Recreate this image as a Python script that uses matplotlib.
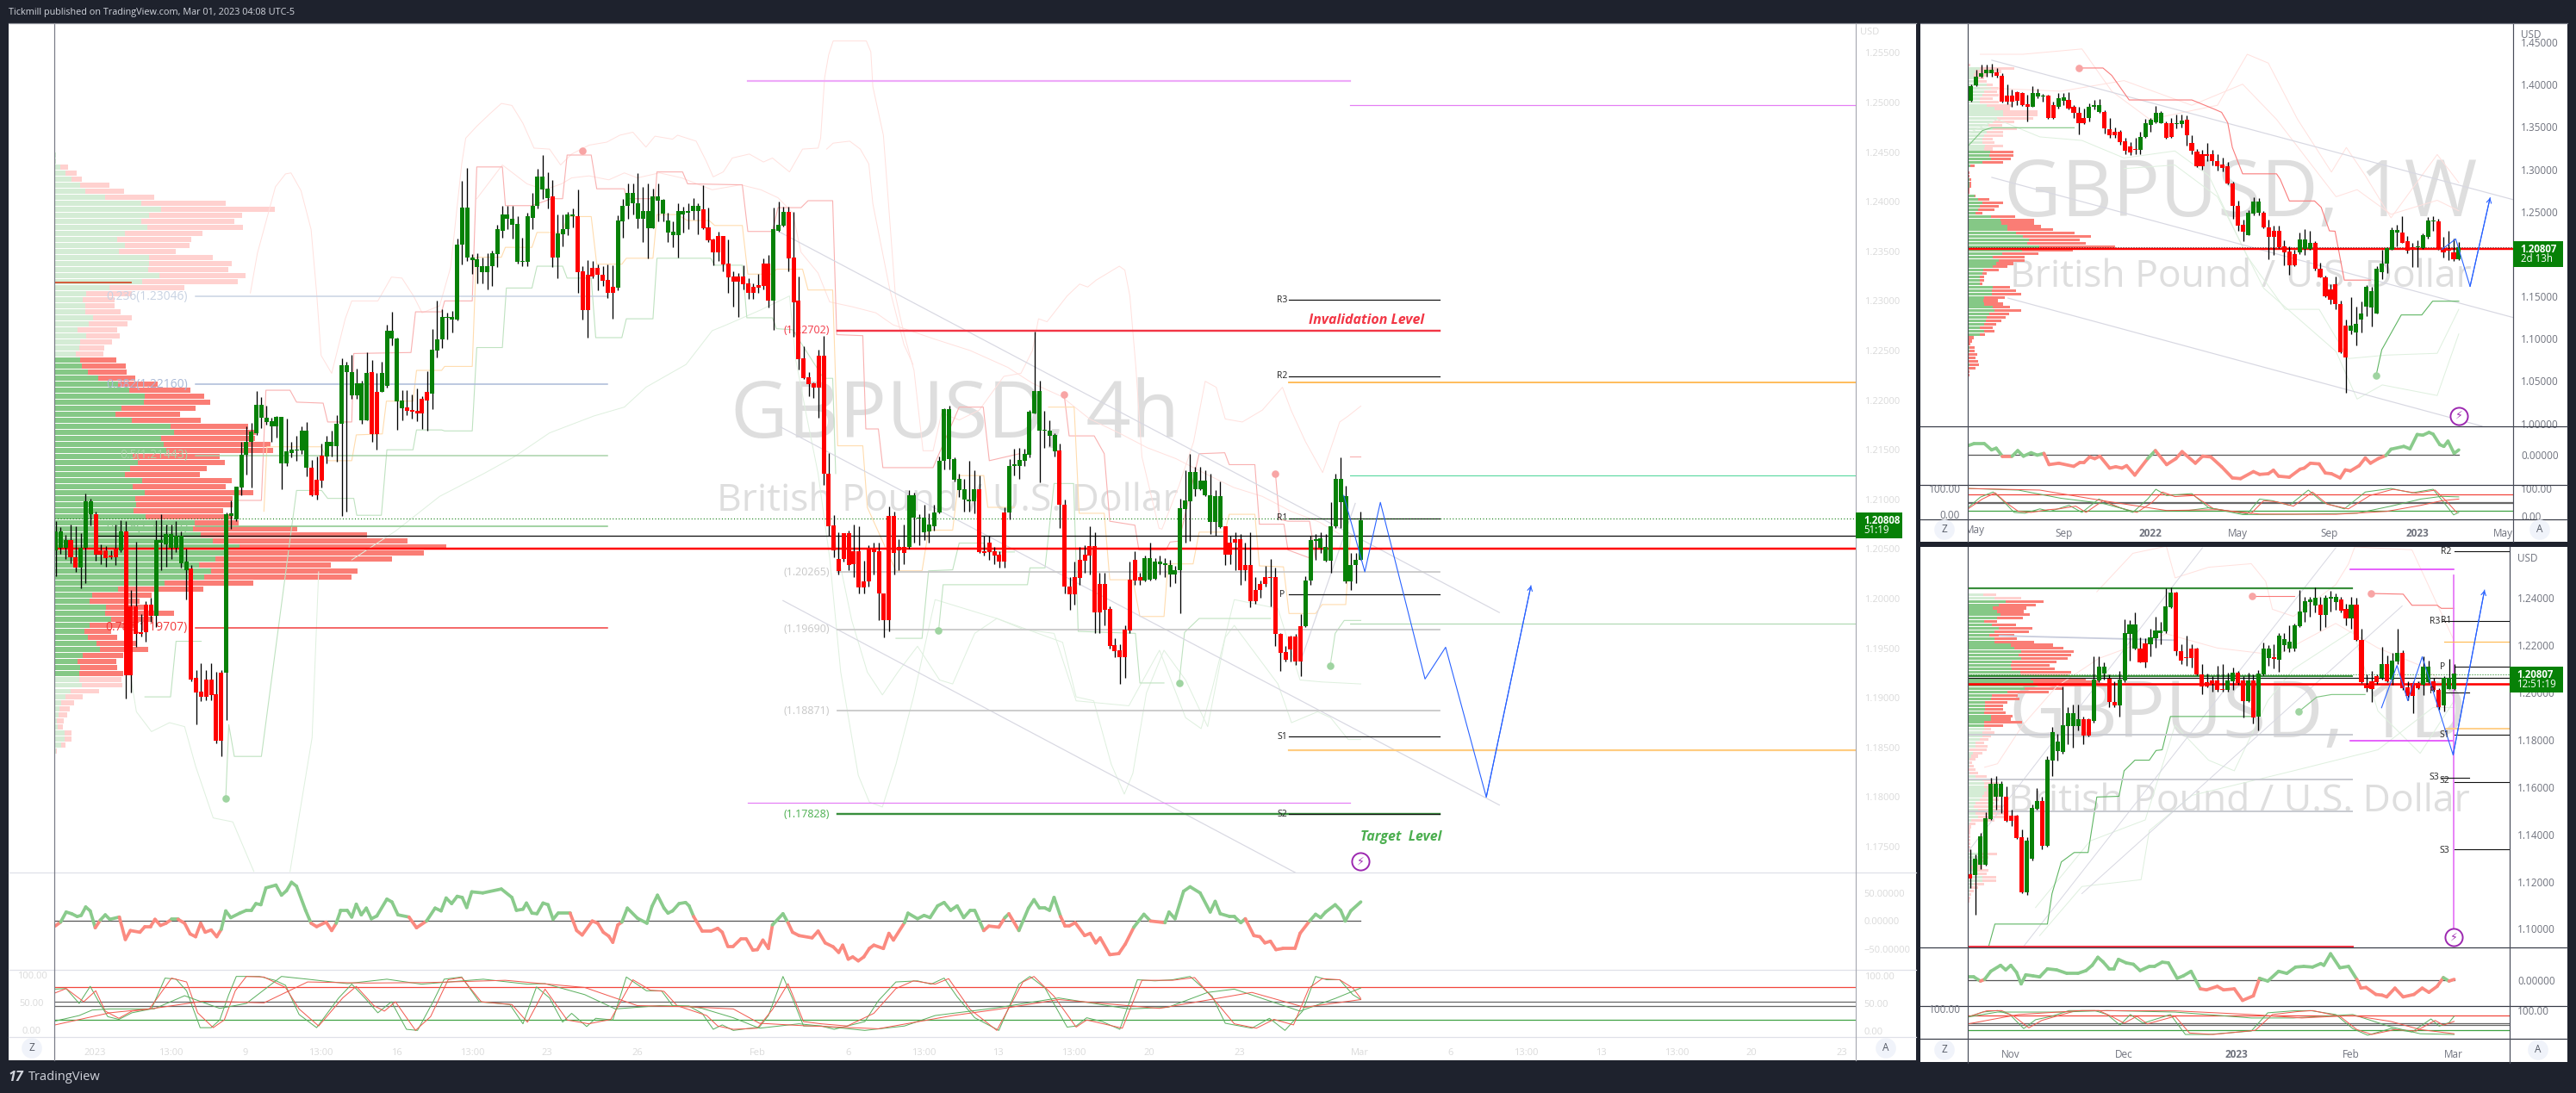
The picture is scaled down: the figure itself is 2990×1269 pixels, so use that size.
import numpy as np
import matplotlib
matplotlib.use("Agg")
import matplotlib.pyplot as plt
from matplotlib.collections import LineCollection
from matplotlib.lines import Line2D
from matplotlib.patches import Rectangle

plt.rcParams['font.family'] = ['Open Sans', 'DejaVu Sans']

# ---------- 4h candles (values in 1/10000 of a dollar) ----------
m_open = [12049,12051,12051,12059,12042,12031,12051,12085,12085,12049,
12049,12043,12050,12049,12068,11992,11992,11966,11994,11994,
11983,12056,12055,12051,12051,12036,12029,12030,11920,11906,
11918,11918,11904,11925,11925,12083,12080,12112,12145,12158,
12167,12182,12178,12174,12174,12136,12136,12147,12149,12149,
12132,12132,12120,12144,12143,12154,12154,12176,12228,12205,
12205,12180,12180,12228,12208,12208,12214,12262,12199,12192,
12193,12190,12189,12201,12208,12207,12250,12261,12283,12281,
12281,12357,12344,12341,12334,12329,12329,12335,12347,12371,
12383,12377,12339,12339,12339,12384,12396,12412,12404,12405,
12344,12367,12372,12385,12385,12330,12326,12333,12333,12326,
12321,12314,12313,12380,12396,12398,12383,12383,12373,12373,
12401,12388,12369,12366,12366,12387,12389,12391,12391,12392,
12374,12362,12365,12365,12338,12325,12325,12325,12318,12314,
12316,12338,12338,12300,12371,12376,12390,12344,12300,12242,
12223,12217,12245,12245,12126,12074,12040,12066,12066,12048,
12048,12017,12051,12051,12048,12005,12083,12083,12052,12052,
12052,12082,12081,12067,12068,12073,12087,12139,12141,12120,
12109,12100,12098,12098,12110,12048,12056,12048,12044,12087,
12087,12134,12134,12139,12145,12187,12169,12169,12164,12148,12149,12095,
12012,12022,12039,12044,12053,12053,12015,12015,11990,11953,
11948,11969,12019,12039,12022,12018,12019,12020,12035,12034,
12024,12024,12029,12090,12098,12110,12110,12104,12077,12077,
12072,12073,12056,12060,12060,12034,12034,12009,12015,12022,
12022,12022,11964,11946,11962,11962,11972,11972,12018,12058,
12051,12038,12038,12073,12097,12017,12017,12034,12039]
m_close = [12068,12068,12059,12042,12031,12051,12098,12098,12044,12044,
12041,12042,12042,12068,11923,11923,11964,11964,11966,11983,
12059,12059,12065,12065,12063,12063,12037,11918,11905,11901,
11901,11903,11857,11857,12085,12086,12113,12145,12158,12168,
12195,12195,12182,12179,12183,12183,12148,12150,12150,12169,
12169,12104,12104,12119,12158,12158,12176,12235,12235,12228,
12217,12217,12227,12166,12166,12227,12270,12270,12262,12200,
12189,12188,12187,12187,12200,12251,12261,12284,12284,12284,
12357,12394,12394,12344,12342,12335,12335,12348,12372,12387,
12387,12383,12378,12340,12385,12396,12425,12425,12413,12344,
12368,12372,12387,12387,12329,12291,12291,12325,12326,12320,
12308,12308,12381,12396,12409,12409,12398,12391,12391,12405,
12405,12402,12381,12370,12391,12391,12391,12396,12396,12373,
12361,12349,12349,12337,12324,12319,12319,12317,12308,12308,
12313,12315,12300,12372,12377,12390,12343,12299,12241,12222,
12216,12213,12213,12126,12073,12049,12028,12040,12034,12035,
12011,12011,12017,12047,12005,11978,11978,12046,12049,12046,
12104,12104,12082,12082,12075,12087,12139,12191,12191,12141,
12121,12110,12100,12110,12047,12046,12047,12043,12037,12037,
12134,12135,12140,12146,12188,12209,12209,12170,12169,12165,12095,12012,
12004,12004,12021,12038,12043,11986,11986,11989,11952,11947,
11941,11941,11968,12018,12018,12041,12041,12037,12037,12036,
12034,12029,12091,12099,12128,12128,12119,12119,12104,12103,
12103,12044,12044,12056,12029,12029,11997,11997,12009,12015,
12021,11964,11945,11938,11949,11937,11937,12018,12059,12060,
12061,12052,12073,12121,12121,12103,12034,12039,12079]
m_high = [12078,12072,12064,12075,12073,12066,12106,12101,12088,12055,
12053,12049,12075,12079,12078,12009,12057,11984,11997,12001,
12079,12085,12075,12075,12078,12068,12050,12034,11928,11935,
11928,11935,11926,11928,12087,12099,12113,12158,12174,12177,
12209,12203,12194,12182,12184,12183,12181,12158,12164,12174,
12178,12140,12143,12156,12164,12169,12185,12242,12239,12246,
12232,12220,12248,12240,12227,12239,12276,12289,12263,12210,
12210,12206,12212,12204,12229,12272,12300,12292,12288,12290,
12363,12421,12434,12347,12348,12344,12348,12351,12377,12396,
12396,12396,12385,12364,12389,12409,12433,12447,12430,12422,
12387,12387,12390,12393,12412,12335,12341,12340,12337,12335,
12337,12336,12386,12403,12418,12418,12429,12415,12418,12413,
12418,12403,12389,12380,12398,12395,12398,12404,12398,12417,
12394,12363,12370,12365,12362,12330,12328,12336,12323,12318,
12327,12343,12346,12394,12400,12395,12395,12390,12325,12254,
12228,12218,12251,12265,12147,12084,12067,12066,12069,12075,
12073,12038,12054,12056,12056,12005,12093,12088,12060,12075,
12109,12107,12085,12095,12086,12095,12143,12192,12194,12142,
12126,12121,12139,12129,12124,12063,12063,12052,12048,12092,
12141,12151,12152,12151,12190,12269,12220,12189,12180,12167,12156,12100,
12022,12037,12052,12054,12073,12067,12026,12026,11992,11960,
11954,11973,12037,12048,12026,12043,12056,12041,12043,12041,
12039,12033,12101,12129,12146,12133,12133,12129,12126,12109,
12118,12073,12063,12067,12065,12056,12067,12022,12018,12033,
12040,12031,11965,11952,11963,11964,11984,12023,12063,12065,
12067,12065,12097,12126,12142,12114,12046,12046,12088]
m_low = [12023,12045,12040,12036,12027,12010,12016,12074,12038,12035,
12032,12040,12034,12047,11899,11905,11951,11962,11957,11977,
11971,12029,12032,12040,12047,12031,11999,11917,11873,11897,
11898,11898,11854,11841,11878,12070,12078,12104,12125,12112,
12165,12172,12175,12158,12162,12110,12134,12142,12139,12146,
12123,12103,12100,12112,12136,12143,12138,12083,12088,12201,
12201,12176,12180,12158,12150,12208,12213,12255,12170,12180,
12185,12181,12179,12171,12169,12191,12243,12253,12261,12268,
12280,12337,12340,12327,12318,12318,12312,12315,12334,12364,
12372,12363,12338,12335,12335,12372,12393,12403,12393,12334,
12323,12355,12366,12374,12308,12281,12263,12323,12311,12315,
12303,12282,12311,12364,12383,12387,12373,12359,12343,12373,
12380,12380,12359,12354,12344,12369,12372,12382,12367,12372,
12359,12336,12340,12330,12308,12294,12284,12312,12302,12302,
12308,12312,12293,12271,12370,12375,12330,12264,12231,12221,
12204,12202,12182,12115,12063,12042,12024,12037,12029,12022,
12005,12005,12012,12024,11978,11961,11967,12024,12029,12035,
12050,12056,12054,12059,12056,12069,12086,12130,12130,12118,
12102,12088,12088,12086,12046,12043,12039,12035,12031,12031,
12080,12124,12121,12134,12142,12187,12117,12152,12154,12143,12071,12005,
11989,11994,12014,12026,12024,11965,11965,11973,11950,11941,
11914,11920,11965,12014,12014,12017,12018,12019,12024,12022,
12012,12016,11985,12056,12058,12103,12109,12103,12065,12063,
12071,12034,12035,12029,12014,12018,11991,11995,12001,12012,
11992,11952,11927,11937,11937,11933,11922,11971,12014,12039,
12046,12037,12026,12071,12071,12016,12009,12016,12039]

# ---------- weekly candles ----------
w_open = [13805,13992,14088,14137,14137,14146,14108,13872,13872,13905,13901,13772,13739,13859,13855,13868,13755,13739,13809,13818,
13735,13664,13606,13606,13739,13672,13681,13473,13444,13444,13328,13274,13241,13224,13382,13519,13556,13548,13548,13539,
13535,13535,13581,13311,13207,13174,13174,13174,13099,13058,13033,12834,12572,12344,12227,12477,12485,12485,12310,12269,
12269,12095,12032,11999,12020,12061,12061,12128,11825,11721,11580,11646,11405,11156,11090,11077,11231,11380,11364,11297,
11783,11887,12053,12257,12257,12153,12082,12078,12074,12198,12381,12385,12061,12061,12024,11937]
w_close = [13984,14088,14137,14179,14179,14108,13797,13797,13797,13805,13755,13735,13901,13901,13872,13606,13606,13838,13847,13718,
13664,13539,13544,13735,13755,13755,13486,13402,13402,13319,13216,13195,13224,13382,13539,13585,13664,13664,13373,13382,
13548,13577,13402,13216,13033,13033,13162,13099,13033,13016,12829,12564,12331,12261,12485,12618,12618,12310,12203,12203,
12082,12024,11862,11862,12169,12169,12128,11825,11729,11501,11463,11414,10841,10783,11152,11173,11297,11613,11563,11825,
11887,12074,12281,12281,12136,12041,12053,12095,12219,12394,12398,12053,12024,12036,11937,12078]
w_high = [14004,14171,14237,14233,14245,14191,14137,14004,13942,13921,13913,13880,13984,13955,13888,13880,13797,13897,13901,13913,
13755,13735,13714,13776,13818,13830,13697,13610,13498,13465,13373,13319,13373,13444,13598,13610,13747,13689,13569,13610,
13643,13643,13639,13402,13236,13224,13307,13224,13174,13141,13083,12850,12634,12406,12522,12668,12663,12510,12406,12335,
12335,12157,12095,12045,12252,12294,12269,12153,11895,11742,11646,11733,11451,11231,11493,11380,11438,11638,11617,11854,
12053,12082,12310,12344,12447,12211,12128,12157,12240,12435,12443,12418,12198,12273,12178,12144]
w_low = [13797,13984,14079,14096,14088,14079,13789,13764,13735,13755,13747,13569,13735,13838,13797,13598,13598,13714,13755,13706,
13610,13415,13535,13569,13706,13664,13423,13373,13373,13290,13182,13166,13174,13174,13373,13444,13539,13539,13357,13373,
13486,13498,13278,13182,13025,13000,13099,13050,12983,12975,12821,12418,12269,12153,12219,12460,12460,12302,11937,11991,
12070,11866,11754,11858,12003,11991,12045,11804,11721,11493,11410,11347,10828,10359,11057,10924,11077,11264,11148,11293,
11700,11771,12045,12095,12128,12012,11845,11845,12061,12178,12269,12045,11962,11929,11920,11929]

# ---------- daily candles ----------
d_open = [11231,11228,11271,11271,11464,11558,11558,11558,11479,11479,11387,11153,11295,11509,11541,11351,11714,11751,11748,11859,
11859,11859,11889,11889,11880,12052,12082,12058,11959,11947,12052,12249,12185,12186,12207,12204,12231,12252,12260,12362,
12424,12177,12151,12185,12185,12078,12043,12052,12052,12014,12011,12048,12085,12052,11963,12052,11899,12079,12148,12151,
12140,12201,12186,12186,12281,12339,12384,12370,12373,12330,12397,12385,12393,12353,12315,12372,12222,12032,12048,12070,
12063,12121,12055,12133,12168,12023,12041,12041,12033,12044,12047,12011,11947,12017,12017]
d_close = [11213,11295,11390,11468,11614,11614,11614,11457,11457,11384,11153,11375,11512,11541,11351,11717,11832,11792,11862,11913,
11913,11889,11818,11818,12055,12110,12110,11959,11947,12055,12252,12287,12289,12130,12130,12234,12263,12263,12365,12424,
12177,12137,12145,12145,12078,12027,12027,12036,12011,12011,12052,12085,12041,11963,12052,11896,12082,12185,12185,12142,
12241,12225,12216,12284,12344,12387,12396,12400,12330,12400,12406,12406,12347,12315,12372,12222,12045,12018,12017,12045,
12121,12047,12136,12168,12020,11986,11986,12018,12110,12110,12011,11937,12061,12061,12081]
d_high = [11335,11315,11405,11494,11639,11647,11624,11602,11506,11483,11419,11387,11528,11595,11558,11729,11855,11825,12026,11937,
11951,11951,11899,11892,12152,12152,12130,12078,12048,12093,12311,12308,12341,12234,12231,12271,12320,12301,12442,12445,
12427,12204,12241,12204,12189,12122,12082,12070,12115,12122,12085,12107,12093,12070,12085,12078,12097,12211,12201,12204,
12252,12252,12286,12293,12434,12405,12405,12445,12405,12412,12430,12420,12405,12375,12405,12400,12271,12078,12093,12078,
12194,12159,12167,12271,12180,12048,12048,12048,12152,12137,12063,12018,12070,12142,12122]
d_low = [11171,11060,11253,11268,11461,11506,11491,11454,11434,11379,11149,11142,11290,11506,11335,11348,11647,11711,11743,11780,
11766,11840,11780,11813,11874,12045,12055,11937,11940,11899,12046,12137,12182,12127,12107,12152,12189,12204,12252,12359,
12159,12122,12115,12107,12073,11993,12023,12003,12003,12003,12003,12011,12033,11896,11959,11870,11840,12073,12115,12104,
12088,12174,12171,12174,12278,12301,12323,12338,12263,12278,12345,12350,12338,12286,12271,12219,12041,12003,11959,12038,
12055,12044,12033,12122,12011,11966,11914,12014,11989,12041,12003,11929,11922,12014,12011]

# ---------- volume profiles (up / down volume per price row) ----------
vp_m_up = [4,4,13,26,39,59,71,116,198,243,215,198,211,161,143,161,147,215,215,214,240,199,125,
73,64,71,71,88,79,53,73,59,57,49,
58,63,77,99,146,170,205,203,153,139,177,265,273,243,249,255,179,191,173,160,199,179,205,185,187,181,207,319,316,333,361,421,386,366,
329,356,341,251,146,87,81,118,116,130,81,69,77,97,103,65,53,59,57,
57,63,37,25,15,11,9,6,7,24,24,16,3]
vp_m_dn = [0,0,18,24,23,66,87,111,193,258,212,211,218,176,168,146,129,145,188,181,195,218,170,
103,73,66,79,88,87,90,75,72,56,62,
83,99,87,85,90,139,137,151,168,147,156,176,185,213,242,242,197,197,173,171,204,212,247,221,219,203,199,100,236,378,442,470,454,402,
300,333,335,201,193,134,113,88,156,96,105,60,66,89,110,91,88,84,99,
95,91,64,39,30,24,20,15,12,15,15,9,2]
vp_w_up = [3,29,19,14,19,19,44,54,39,34,29,29,44,64,84,84,69,59,49,59,44,39,34,34,41,39,
53,51,54,34,7,2,2,3,5,4,4,2,3,
17,24,34,29,24,19,54,77,79,94,94,114,131,144,141,169,129,82,59,74,67,59,37,34,29,29,29,59,57,57,39,37,39,59,64,51,44,42,39,29,39,29,2,2,1,4,4,2,2,2,4,2,1,1]
vp_w_dn = [4,80,60,30,20,25,15,20,30,40,30,45,60,35,80,80,85,50,32,58,40,45,25,30,43,20,
54,56,47,49,10,1,2,1,4,5,4,3,2,
2,27,50,45,40,15,58,80,77,80,107,138,161,120,138,180,120,85,75,60,40,35,37,10,10,10,5,40,57,69,48,34,45,40,62,46,45,37,28,30,25,12,12,8,6,12,12,20,17,22,22,16,4,4]
vp_d_up = [37,64,89,74,59,69,77,69,39,56,74,64,51,64,64,101,109,127,121,127,104,101,104,124,127,149,154,164,134,94,57,54,41,41,41,39,54,54,39,39,
39,34,34,29,19,19,4,12,9,4,4,4,2,4,19,34,39,39,44,39,34,29,19,14,24,19,24,9,4,2,2,2,2,2,2,2,2,34,29,19,14,9,19,24,34,34,14,9,4,4,2,2,1,1,1]
vp_d_dn = [30,63,90,87,80,63,70,62,30,58,78,80,58,53,93,101,117,124,123,109,105,93,102,120,112,130,155,165,90,97,62,68,53,43,43,50,52,47,90,45,
15,30,20,20,20,28,40,22,15,15,7,10,17,20,25,25,35,30,35,45,40,45,45,65,60,70,70,55,15,7,5,4,4,4,4,5,5,35,20,25,20,25,30,20,33,33,25,15,10,5,4,2,2,2,1]

# ---------- momentum pane series: bar position and value ----------
rsi_m_x = [-0.1,1,2.1,3.2,4.3,5.1,6,6.9,7.9,8.9,9.9,10.8,12.7,13.9,14.9,16.8,17.8,18.9,19.8,20.9,22,23.1,24.4,25.7,26.8,27.9,28.9,29.8,31,32.1,33,33.9,34.9,36.7,38,39,39.9,40.9,41.9,43.9,45,46,47,48,49.8,50.9,52,53.9,55,55.9,56.8,58.1,59,59.9,60.9,61.9,62.9,64,66,67,68.2,70.4,71.9,73.9,75.6,76.8,77.8,78.9,80,81,81.9,82.9,85.1,88.8,90.9,91.8,93.1,93.8,94.9,95.9,97.1,98.1,99.1,100.1,102.5,103.8,104.9,106.9,108,109.1,110.2,111,112,112.8,113.9,115.9,117.8,118.8,119.9,121.2,122,122.9,124.2,125.5,
126.2,127.1,128.8,130.6,131.9,132.8,133.9,135,136.5,137.6,138.9,139.8,140.9,142,142.8,144.9,145.9,146.8,148.1,150.7,151.9,153.3,154.9,156,156.8,157.9,158.8,159.9,161,162.1,163,164.9,166,166.9,169.1,169.8,171.7,173,174.2,175.7,177,178.3,179.6,180.9,182.2,183.1,184.9,185.9,187.9,189.1,189.9,191.9,193.8,194.9,196,197.1,198,198.9,200.2,201.1,201.9,203.1,205,206.1,207.2,208.1,210,211.8,213.1,214.8,216.8,218.1,221,221.8,223,224.7,226,228,230,231,232,233.9,234.8,236.1,237,238.7,239.9,240.9,242,243.1,244.4,246.9,247.9,249.8,251,252,253,254.9,256,256.9,258,260]
rsi_m_v = [-9,-2,16,13,8,10,25,18,-12,1.5,11,3,7,-33,-17,-20,-10,-10,3,-8,-4,3,3,-4,-23,-28,-4,-20,-16,-28,-15,18,6,14,19,19,31,29,59,64,46,54,69,62,19,-4,-10,-2,-17,-4,19,19,7,30,11,23,4,9,39,34,11,7,-12,0,23,18,41,31,44,42,24,52,50,57,42,19,21,32,14,13,32,29,3,14,14,-17,-25,0,-4,-20,-27,-38,-7,-2,23,5,-4,26,46,23,14,18,31,33,
27,8,-18,-18,-13,-20,-45,-45,-32,-32,-52,-51,-34,-49,-7,13,-3,-20,-26,-30,-18,-39,-46,-56,-43,-68,-64,-71,-64,-49,-43,-49,-22,-34,-3,14,4,10,6,27,33,19,27,6,19,19,-17,-9,-11,6,13,-17,23,38,23,23,19,42,8,-9,-9,-3,-26,-22,-39,-30,-60,-58,-41,-11,12,0,-3,16,4,53,61,50,16,35,13,8,8,-3,4,-26,-28,-39,-36,-51,-49,-49,-22,0,12,6,16,29,19,0,18,34]
rsi_w_x = [-0.6,0.6,2.6,4,4.9,6.1,8,9.1,10.2,11.7,12.9,14.2,15.2,17.1,20,21.2,22,23.1,24.1,25.1,27,28.2,29.4,30.3,31.9,34.4,35.9,38.1,39.9,41.1,43.7,45.1,46.7,48.8,50.9,52.5,55,56.2,57.9,58.9,59.9,62,64.1,64.9,66.1,67.8,69,70.2,71.9,72.9,73.9,75.6,76.8,77.8,79.3,80.8,81.8,84.3,85.5,86.9,88,89.2,90,91.3,92.1,92.9,94.1,95]
rsi_w_v = [13,16,16,7,9.5,-2,-2,6,-2,3,-0.5,2,-14,-12,-16.5,-11,-11,-3,-5.5,-2,-19,-17,-19,-15.5,-29,-5.5,6,-14,-5.5,4.5,-12,-2,-3,-17,-33,-34,-24,-28,-27,-22,-30.5,-32,-20.5,-19,-12,-13,-26,-27,-33,-21.5,-23,-15.5,-4.5,-12,-5.5,-1,8,12,8.5,29,28,32,29.5,14.5,12,19.5,2,7]
rsi_d_x = [-0.4,0.7,2,2.8,4,5.9,6.9,7.9,9,9.9,10.8,12.2,13.5,15,16.8,18.8,20.9,22.5,23.7,24.8,25.8,27,27.9,28.8,30.3,31.7,33,34.8,35.8,37.3,38.5,40.2,41.4,42.9,44.7,45.9,48,49.2,51.3,52.9,55,56.2,57.8,59.9,61.5,63.2,64.8,66.5,68.1,68.7,70,71.8,73.5,75.1,75.9,76.9,78.8,80,80.9,82.5,84.1,86.2,87.8,89.1,90.7,91.9,93,94]
rsi_d_v = [4.5,4.5,-1.5,1,12.5,21,14.5,21,11,-5.5,7.5,6,4.5,16,14.5,9.5,9.5,13.5,21,32.5,26,16,16,29.5,24.5,22.5,13.5,19.5,19.5,25.5,24.5,2.5,6,12.5,-12.5,-14,-9,-14,-12.5,-29,-22.5,2.5,-1.5,12.5,9.5,18.5,19.5,18.5,23.5,21,37.5,17.5,19.5,1,-11.5,-10.5,-20.5,-21.5,-24,-11.5,-24,-20.5,-11.5,-17.5,-9,3.5,-1.5,1]

# stochastic series: bar position and value
sk_m_x = [-0.1,2.1,4.7,6.9,8.6,10.4,12.6,15.2,19.1,21.8,24,26.1,28.8,31,32.7,34.5,36,40.6,43.7,45.8,48.5,52,56.4,59,61.6,64.2,66.9,69.9,72.1,75.2,77.4,80.9,84.4,90.5,93.1,95.8,98.4,101,102.8,105.8,107.6,111,113.7,117.7,120.7,122.9,126.2,128.8,131,132.8,135,140.2,142,144.9,146.8,149,152.5,155.1,161.2,163.9,167.4,171.7,174.4,177,179.6,183.1,187.9,191.9,194.1,197.1,201.5,203.3,205.4,208.5,212,215.5,219,222.5,226,230.4,233,238.3,241.8,244.9,248.4,251,253.2,255.8,258.4,260]
sk_m_v = [76,77,50,81,53,26,21,33,40,96,94,73,6,6,20,66,99,99,92,83,30,6,60,85,60,33,53,3,1,53,94,98,53,48,13,80,60,16,32,8,23,20,98,73,73,46,45,32,3,11,1,7,28,99,59,9,9,3,17,55,89,91,85,96,62,24,1,85,99,78,7,9,24,17,3,93,91,93,99,63,14,5,23,1,36,99,93,93,66,57]
sd_m_x = [-0.1,2.1,5.6,8,9.9,12.6,15.2,18.7,23.1,26.1,28.3,31.4,33.6,35.8,38,41.5,45.8,48.5,52.4,57.2,59.9,63.4,65.5,67.7,71.7,74.7,78.2,80.9,84.8,90.9,94,97.5,101.9,106.2,110.6,115,118.5,121.2,123.8,129.7,131.9,135,139.8,142.8,145.9,149,152.5,157.7,163,167.4,170.9,175.2,177.9,182.2,187.5,192.7,194.9,198.9,203.3,205.4,212.5,216.4,222.5,226.9,231.7,234.8,239.2,242.7,246.6,249.7,252.3,255.8,258.4,260]
sd_m_v = [69,77,53,73,36,23,36,40,96,89,33,6,20,73,99,98,79,40,9,60,81,46,36,53,1,26,93,97,53,48,16,76,20,13,21,93,74,72,46,28,9,3,5,39,86,17,13,9,32,77,91,85,95,39,1,89,99,63,7,20,5,92,92,97,47,13,5,21,11,78,95,93,78,59]
lg_m_x = [-0.1,4.7,7.3,10.8,19.6,25.7,32.7,38,45,50.2,58.1,66,72.9,85.2,94,97.5,105.4,111.5,120.3,126.2,128.8,135,140.2,148.1,161.2,169.1,175.2,187.5,199.8,213.8,221.6,229.5,234.8,247.9,254.9,260]
lg_m_v = [18,28,38,40,40,64,41,50,99,94,86,94,85,94,85,86,66,40,46,45,41,24,5,13,1,9,28,42,60,40,43,70,76,36,59,78]
lr_m_x = [-0.1,10.8,19.6,29.3,34.5,41.5,50.2,61.6,74.7,89.6,105.4,115.9,126.2,135,140.2,148.1,163.9,178.7,187.5,199.8,219.9,238.3,248.8,260]
lr_m_v = [11,33,41,54,53,51,89,87,88,92,79,46,44,40,14,10,4,28,39,57,41,70,43,57]

sk_w_x = [-0.6,1.8,4.3,5.9,8.4,10.5,13.4,15.4,19.1,21.6,24.9,28.2,31.5,34.4,36,38.1,43,46.3,49.6,53.8,56.2,58.7,62,65.7,68.6,72.7,76.8,81.8,85.9,90,92.1,94,95]
sk_w_v = [29,68,87,61,12,9,25,16,38,12,61,35,12,61,97,74,81,29,19,6,61,55,38,94,48,25,87,100,84,97,48,3,12]
sd_w_x = [-0.6,2.2,4.7,6.8,9.2,11.7,15,17.1,20.4,22.4,25.7,29,32.3,35.2,37.3,39.7,43.4,47.2,50.5,54.6,57,59.5,62.8,66.5,69.4,73.5,77.7,82.2,86.7,90.4,92.5,94.6]
sd_w_v = [25,61,84,48,16,12,22,25,35,12,55,29,12,48,87,70,74,26,16,9,55,51,35,87,42,25,74,97,83,94,55,12]
lg_w_x = [-0.6,9.2,17.5,25.7,31.5,42.2,46.3,52.9,62.8,75.2,81.8,87.6,91.7,95]
lg_w_v = [100,94,64,45,16,19,29,4,5,9,35,61,71,69]
lr_w_x = [-0.6,13.4,25.7,38.1,48,56.2,71.1,81,87.6,91.7,95]
lr_w_v = [100,94,55,19,22,6,5,16,38,55,61]

sk_d_x = [-0.4,2.4,5.3,7.7,10.4,12.7,15.9,19.2,24.2,26.6,29.1,31.1,33.6,38.9,41.8,46.3,54.6,57.8,62.8,66.1,71,74.3,77.2,81.7,85.8,89.5,91.1,93,94]
sk_d_v = [74,94,100,84,27,63,77,100,100,84,41,84,49,84,3,3,17,91,99,100,84,27,0,27,13,66,37,51,77]
sd_d_x = [-0.4,3.2,6.1,8.5,11.4,13.9,17.2,20.5,25,27.4,29.9,32.4,34.4,39.8,42.6,47.2,55.4,58.7,63.6,66.5,71.8,75.1,78,82.5,86.6,90.3,91.9,94]
sd_d_v = [74,99,100,77,30,60,80,99,100,77,49,77,46,77,9,3,20,84,96,100,77,23,3,23,17,60,41,56]
lg_d_x = [-0.4,5.3,17.6,26.6,39.8,54.6,62.8,74.3,81.7,87.4,94]
lg_d_v = [74,94,94,100,94,70,70,84,34,6,3]
lr_d_x = [-0.4,9.4,21.7,39.8,54.6,64.4,74.3,81.7,87.4,94]
lr_d_v = [46,84,100,99,84,70,80,56,23,6]

# ---------- 4h overlay lines: bar position and price (1/10000 $) ----------
m_red_x = [36.2,41,41.9,46.7,48,53.3,54.2,59,59.4,70.8,71.7,76.9,77.5,83,83.9,89,89.6,94.9,98.8,101,101.9,106.7,107.8,113.3,113.7,119.4,119.8,124.9,125.9,136.8,137.9,142.8,143.9,148.5,149.9,154.8,155.6,160.8,161.4,163.9,164.8,174.8,180,184.8,186,192]
m_red_y = [12099,12099,12210,12210,12198,12197,12178,12178,12247,12248,12289,12289,12300,12300,12435,12435,12396,12396,12403,12403,12447,12447,12413,12413,12403,12403,12430,12430,12418,12417,12370,12370,12394,12394,12401,12401,12266,12265,12171,12171,12132,12132,12193,12193,12139,12146]
m_red2_x = [200.9,201.9,206.9,208.9,210,215,215.8,221.2,222,223.8,227.8,232.9,233.8,238.9,239.8,244.7,245.5,249.8]
m_red2_y = [12206,12164,12164,12146,12078,12074,12049,12049,12057,12058,12146,12147,12135,12135,12075,12075,12049,12041]
m_red3_x = [243,243.8,245.5,249.8,251]
m_red3_y = [12126,12080,12078,12078,12041]
m_red4_x = [257.9,260]
m_red4_y = [12143,12143]
m_or_x = [41.5,42.1,52.9,54.2,59,59.9,65.1,65.9,71.2,71.9,76.9,77.5,83,83.8,88.8,89.6,94.9,95.9,101,101.9,106.7,107.8,112.8,113.7,119,119.8,123.8,125.9,130.2,131.3,136.8,137.9,142.8,143.6,148.8,149.9,154.8,155.8,160.8,161.7,167.4,172.6,173.9,178.7,180,184.9,185.7,191]
m_or_y = [12088,12153,12153,12139,12139,12165,12166,12199,12199,12230,12230,12234,12234,12344,12344,12354,12354,12369,12369,12385,12385,12337,12337,12343,12343,12387,12387,12381,12381,12376,12376,12327,12327,12332,12332,12311,12311,12154,12154,12092,12028,12028,12069,12069,12124,12124,12092,12092]
m_or2_x = [197.8,202.9,203.9,208.9,210,214.6,216,220.8,221.6,226.6,227.8,232.9,233.8,238.9,239.8,244.6,245.7,251,252.3,257,257.9,259.8]
m_or2_y = [12193,12193,12086,12086,12019,12019,11982,11982,12035,12035,12067,12067,12085,12085,12033,12032,11985,11985,11994,11994,12063,12063]
m_gr_x = [33.9,34.5,35.6,41,48,53,54.2,59.4,60,64.9,66,71.2,71.9,76.9,77.5,83,83.9,89,89.8,94.9,95.9,101,101.9,106.7,107.6,112.8,113.7,119,119.8,130.5,131.3,136.8,137.7,142.8,143.6,146.8,153,154.8,155.4]
m_gr_y = [11799,11873,11841,11841,12109,12109,12101,12101,12084,12084,12150,12150,12170,12170,12169,12169,12253,12253,12313,12313,12335,12335,12323,12323,12263,12263,12282,12282,12343,12343,12336,12336,12283,12283,12272,12271,12222,12222,12126]
m_gr2_x = [175.9,176.8,193.6,194.1,197.1,198.9,202.8,203.7,215.1,216,220.8]
m_gr2_y = [11968,12014,12014,12031,12031,12116,12116,11967,11965,11915,11915]
m_gr3_x = [167.4,172.6,173.9,178.7,180,184.9,185.7,191]
m_gr3_y = [11960,11960,12028,12029,12056,12056,12047,12047]
m_gr4_x = [223.8,224.9,227.8,242]
m_gr4_y = [11915,11966,11980,11980]
m_gr5_x = [253.9,254.9,256.7,260]
m_gr5_y = [11932,11965,11978,11978]
m_gr6_x = [17.8,22.9,24,29]
m_gr6_y = [11901,11901,11957,11957]

m_pk1_x = [38.8,40.2,43.8,45.8,46.9,48.9,50.9,52,52.9,55,57.7,59,64.2,66.9,69,71.3,73,76.5,78.7,80.9,81.7,83.9,86.6,88.8,90.9,93.1,95.3,98.4,100.6,102.8,106.3,109.8,112.4,115,117.6,119.4,122.9,123.9,127.6,129.6,131,133,134.8,138.2,141,142.8,146.2,148.8,151.9,152.4,153.2,154,154.9,161.5,162.4,162.8,164.9,167.3,169,171,172.8,174.8,176.5,180,184,188.9,192.3,194.6,195.8,197.5,201.5,204,205.6,207.3,211.9,213,214,215.2,216.4,219.8,220.4,223.8,226.7,229,231.2,233,236.4,240.4,244.4,246.1,249,252.4,255.8,257.5,260]
m_pk1_y = [12308,12348,12415,12428,12429,12411,12372,12308,12245,12227,12282,12300,12300,12324,12323,12305,12288,12295,12334,12438,12464,12476,12489,12499,12497,12479,12454,12453,12437,12448,12457,12460,12467,12470,12455,12466,12463,12467,12461,12441,12425,12430,12444,12448,12440,12444,12430,12453,12454,12464,12525,12548,12562,12562,12551,12516,12467,12305,12267,12230,12149,12149,12187,12180,12190,12224,12227,12250,12282,12279,12305,12317,12314,12321,12335,12331,12305,12233,12143,12071,12070,12114,12158,12219,12213,12181,12178,12190,12213,12190,12158,12127,12178,12184,12194]
m_pk2_x = [153.6,154.9,158.2,160.3,162,162.8,166.2,169,170.8]
m_pk2_y = [12453,12459,12461,12453,12438,12398,12311,12256,12236]
m_pk3_x = [83.9,89,93.9,97.4,100.8,102.8,106.3,110.2,113.3,115.9,120.3,124.7,130.8,136.5,140.5,143.9,146.8,148.5,151.9,154.2,158.8,163.4,166.8,174.8,182.2,189.7,194.6,200.3,206,211.8,217.5,223.2,229,234.7,240.4,246.1,251.8,255.8]
m_pk3_y = [12403,12437,12418,12412,12418,12424,12426,12422,12429,12424,12429,12424,12412,12417,12412,12404,12389,12349,12328,12299,12294,12288,12276,12262,12250,12233,12217,12204,12181,12167,12152,12141,12126,12112,12103,12088,12077,12065]
m_pg1_x = [59,67.7,76.5,85.3,91.4,98.4,107.2,113.3,117.6,125.6,130.8,133.7,140.5,146.2,147.4,149.6,151.9,154.2,156.4,159.9,162.1,164.7,167.4,170.9,175.2,187.5,200.6,203.3,206.8,210.3,212.9,214.6,217.3,220.8,225.1,229.5,233,234.8,243.5,246.2,251.4,254,257.5,260]
m_pg1_y = [12039,12068,12103,12126,12143,12167,12184,12193,12213,12236,12270,12276,12291,12305,12242,12184,12126,12041,11926,11822,11795,11790,11833,11901,11999,11980,11956,11901,11897,11833,11803,11824,11905,11948,11918,11871,11961,11973,11914,11875,11886,11880,11858,11858]
m_pg2_x = [155.1,158.6,161.7,164.7,167.8,171.7,176.1,178.7,183.1,187.5,192.8,198.9,203.3,213.8,219.9,225.1,228.2,230.4,234.8,243.5,247.9,252.3,260]
m_pg2_y = [12063,11978,11926,11903,11926,11952,11918,11914,11965,11980,11969,11965,11897,11892,11948,11880,11869,11909,11999,11990,11918,11916,11914]
m_pg3_x = [14.3,16.1,19.1,22.7,25.7,27.9,31.4,35.3,39.5]
m_pg3_y = [11942,11886,11866,11875,11871,11831,11779,11775,11725]
m_pg4_x = [46.7,51.1,52.4]
m_pg4_y = [11725,11860,12027]

# levels on the 4h chart
fib_labels = ["0.236(1.23046)", "0.382(1.22160)", "0.5(1.21443)", "0.618(1.20727)", "0.786(1.19707)"]
fib_prices = [1.23046, 1.22160, 1.21443, 1.20727, 1.19707]
fib_colors = ["#c8d2e2", "#a9b9d6", "#a8d2a8", "#86c588", "#f23a3a"]
gann_labels = ["(1.22702)", "(1.20265)", "(1.19690)", "(1.18871)", "(1.17828)"]
gann_prices = [1.22702, 1.20265, 1.19690, 1.18871, 1.17828]
gann_colors = ["#f23645", "#c8c8c8", "#c8c8c8", "#c8c8c8", "#388e3c"]
piv_labels = ["R3", "R2", "R1", "P", "S1", "S2"]
piv_prices = [1.2301, 1.2224, 1.2081, 1.2004, 1.1861, 1.1783]
ticks_m = [1.175, 1.18, 1.185, 1.19, 1.195, 1.20, 1.205, 1.21, 1.215, 1.22, 1.225, 1.23, 1.235, 1.24, 1.245, 1.25, 1.255]
ticks_w = [1.00, 1.05, 1.10, 1.15, 1.20, 1.25, 1.30, 1.35, 1.40, 1.45]
ticks_d = [1.10, 1.12, 1.14, 1.16, 1.18, 1.20, 1.22, 1.24]
time_m_pos = [7.9,22.9,37.8,52.9,67.9,83,97.9,115.9,139.8,157.9,172.9,187.8,202.9,217.9,235.9,259.8,277.8,292.9,307.8,322.9,337.8,355.8]
time_m_lab = ["2023","13:00","9","13:00","16","13:00","23","26","Feb","6","13:00","13","13:00","20","23","Mar","6","13:00","13","13:00","20","23"]
time_w_pos = [18,35,51.9,69.8,86.9,103.7]
time_w_lab = ["Sep","2022","May","Sep","2023","May"]
time_d_pos = [7.9,29.8,51.8,73.9,93.9]
time_d_lab = ["Nov","Dec","2023","Feb","Mar"]
blue_m_x = [256.6,260.8,263.9,272.8,276.9,285,293.9]
blue_m_y = [12104,12027,12097,11919,11951,11800,12013]
blue_w_x = [91.7,94.4,97.2,101.1]
blue_w_y = [12053,12178,11617,12663]
blue_d_x = [79.9,82.9,85,87.8,93.8,99.9]
blue_d_y = [11936,12115,11966,12152,11736,12434]

# weekly overlays
w_red_x = [21,25.7,27.4,30.8,43,47.2,48.8,50,50.9,52.9,59.5,60.2,62,66.9,68.2,69.8,70.9,72.7,77.8]
w_red_y = [14195,14195,14108,13818,13818,13714,13672,13548,13257,12946,12946,12884,12626,12626,12551,12273,12269,11692,11692]
w_gr_x = [78.9,80,83.8,87.8,89.9,95]
w_gr_y = [10567,10870,11281,11281,11443,11443]
w_gr2_x = [-0.6,2.2,4,20.1]
w_gr2_y = [13274,13456,13490,13490]
w_pk1_x = [1.8,10.1,21.6,27.4,34.8,48,53.8,57.9,63.6,70.2,73.1,76.8,81.8,90.8,95]
w_pk1_y = [14357,14357,14420,13921,13589,13755,14357,14253,13589,12967,13257,12925,12427,13174,12842]
w_pk2_x = [1.8,17.5,29.8,43,52.9,59.5,71.1,75.2,81.8,90.8,95]
w_pk2_y = [13963,13921,14046,13755,14004,13589,12676,12759,12468,12634,12510]
w_pg1_x = [-0.6,5.1,13.4,21.6,29.8,39.7,46.3,53.8,61.2,67.8,73.5,81,90.8,95]
w_pg1_y = [13423,13589,13382,13340,13133,13216,12925,11970,11347,11347,10766,10807,10828,11347]
w_pg2_x = [29.8,39.7,48,57,71.1,75.2,80.1,90.8,95]
w_pg2_y = [13008,13050,12676,11596,10849,10288,10455,10330,11057]
w_chan_x = [[4.04,105.5],[4.04,105.5],[7.2,99.5]]
w_chan_y = [[14287,12643],[12904,11252],[11480,9969]]

# daily overlays
d_red1_x = [54.8,62.9]
d_red1_y = [12408,12408]
d_red2_x = [77.8,84.1,85.8,90.7,91.5,94]
d_red2_y = [12420,12417,12370,12370,12357,12357]
d_gr1_x = [3.6,4.8,15,15.9,17.7,20.2,22.9,24.6,28.9,29.9,32,34.8,36.1,37.3,38.9,54.6]
d_gr1_y = [10926,11020,11020,11149,11283,11323,11323,11558,11561,11669,11714,11714,11755,11758,11899,11899]
d_gr2_x = [63.8,67.3,70.2,76.7]
d_gr2_y = [11919,11981,11992,11992]
d_pk1_x = [24.6,31.6,38.1,39.8,46.3,54.6,57.4,58.7,62.8,71,73.5,74.7,85.8,94]
d_pk1_y = [12427,12590,12620,12486,12531,12546,12471,12353,12323,12457,12546,12617,12605,12219]
d_pk2_x = [2.8,5.3,10.2,16.8,25,38.1,48,59.5,71,79.2,87.4,94]
d_pk2_y = [11684,11699,11862,12026,12145,12249,12189,12159,12293,12189,12115,12011]
d_pg1_x = [12.7,23.3,34,39.8,46.3,51.3,57.8,62.8,74.3,79.2,87.4,94]
d_pg1_y = [11090,11372,11461,11862,11714,11669,11966,12100,12263,11922,11743,11966]
d_pg2_x = [13.5,21.7,33.2,34.8,43.1,62.8,79.2,89.9,94]
d_pg2_y = [10971,11179,11208,11416,11565,11669,11758,11937,11937]
d_diag_x = [[-0.4,45.1],[10.4,71],[21.7,83.9]]
d_diag_y = [[11327,12613],[10926,12613],[11149,12367]]

# ---------- style constants ----------
W, H = 2990, 1269
BG = "#1e222d"
GREEN = "#078107"
RED = "#ff0000"
RED_ST = "#f9b0b0"
OR_ST = "#ffdcae"
GR_ST = "#bfe2c0"
PINK = "#ffe1de"
PALE = "#dff0df"
FAINT = "#dadada"
TXT = "#6f727d"
BLUE = "#2962ff"
MAG = "#e040fb"
TREND = "#d8d8e2"

fig = plt.figure(figsize=(W / 100, H / 100), dpi=100, facecolor=BG)


def rect(x0, y0, x1, y1):
    return [x0 / W, 1 - y1 / H, (x1 - x0) / W, (y1 - y0) / H]


def add_white(x0, y0, x1, y1):
    fig.add_artist(Rectangle((x0 / W, 1 - y1 / H), (x1 - x0) / W, (y1 - y0) / H,
                             transform=fig.transFigure, fc="white", ec="none", zorder=0))


def fline(x0, x1, y0, y1, color, lw=1.0, z=9):
    fig.add_artist(Line2D([x0 / W, x1 / W], [1 - y0 / H, 1 - y1 / H], transform=fig.transFigure,
                          color=color, lw=lw * 0.72, zorder=z))


def ftext(x, y, s, **kw):
    kw.setdefault("zorder", 10)
    return fig.text(x / W, 1 - y / H, s, **kw)


def pane(x0, y0, x1, y1, xlim, ylim, z=2):
    ax = fig.add_axes(rect(x0, y0, x1, y1), zorder=z)
    ax.patch.set_alpha(0)
    for s in ax.spines.values():
        s.set_visible(False)
    ax.set_xlim(*xlim)
    ax.set_ylim(*ylim)
    ax.set_xticks([])
    ax.set_yticks([])
    ax.yaxis.tick_right()
    return ax


def candles(ax, o, h, l, c, width):
    o, h, l, c = [np.asarray(a) / 1e4 for a in (o, h, l, c)]
    x = np.arange(len(o))
    ax.vlines(x, l, h, color="black", lw=0.95, zorder=6)
    low = np.minimum(o, c)
    ht = np.maximum(np.abs(c - o), 0.00008)
    cols = [GREEN if cc >= oo else RED for oo, cc in zip(o, c)]
    ax.bar(x, ht, bottom=low, width=width, color=cols, linewidth=0, zorder=7)


def pl(ax, xs, ys, color, lw=1.0, z=3, **kw):
    ax.plot(xs, np.asarray(ys) / 1e4, color=color, lw=lw * 0.72, zorder=z,
            solid_joinstyle="round", **kw)


def hl(ax, price, x0, x1, color, lw=1.0, z=4, **kw):
    ax.plot([x0, x1], [price, price], color=color, lw=lw * 0.72, zorder=z, **kw)


def volume(ax, top, bottom, up, dn, height, dark_from, dark_to):
    n = len(up)
    ys = np.linspace(top, bottom, n) / 1e4
    for i in range(n):
        dark = dark_from <= i <= dark_to
        ax.barh(ys[i], up[i], height=height, color="#85c886" if dark else "#d4ecd5", linewidth=0)
        ax.barh(ys[i], dn[i], left=up[i], height=height, color="#fa7d75" if dark else "#ffd1cf", linewidth=0)


def rsi(ax, xs, vs, end):
    pts = np.column_stack([xs, vs])
    segs = np.stack([pts[:-1], pts[1:]], axis=1)
    cols = ["#8acb8c" if (a + b) / 2 >= 0 else "#fb8a80" for a, b in zip(vs[:-1], vs[1:])]
    ax.add_collection(LineCollection(segs, colors=cols, linewidths=2.7, capstyle="round", zorder=4))
    ax.plot([ax.get_xlim()[0], end], [0, 0], color="#555555", lw=0.9, zorder=3)


def stoch(ax, fg, fr, lg, lr, levels, xr):
    ax.plot(fg[0], fg[1], color="#5cb060", lw=0.72, zorder=4)
    ax.plot(fr[0], fr[1], color="#f25a50", lw=0.72, zorder=4)
    ax.plot(lg[0], lg[1], color="#5cb060", lw=0.72, zorder=4)
    ax.plot(lr[0], lr[1], color="#f25a50", lw=0.72, zorder=4)
    cols = ["#f2463c", "#666666", "#666666", "#3fa243"]
    for lv, c in zip(levels, cols):
        ax.plot(xr, [lv, lv], color=c, lw=0.9, zorder=3)


def ticks_right(ax, vals, fmt, color, pad, size=8):
    ax.set_yticks(vals)
    ax.set_yticklabels([fmt % v for v in vals])
    ax.tick_params(axis="y", right=False, left=False, labelright=True, labelleft=False,
                   length=0, pad=pad, labelsize=size, labelcolor=color)


def bolt(ax, x, y):
    ax.plot([x], [y], "o", ms=14.5, mfc="white", mec="#9c27b0", mew=1.4, zorder=9)
    ax.text(x, y, "\u26a1", color="#9c27b0", ha="center", va="center", fontsize=9,
            family="DejaVu Sans", zorder=10)


def dot(ax, x, y, c):
    ax.plot([x], [y / 1e4], "o", ms=6.2, color=c, mew=0, zorder=5)


def arrow_path(ax, xs, ys):
    pl(ax, xs, ys, BLUE, 1.1, z=8)
    ax.annotate("", xy=(xs[-1], ys[-1] / 1e4), xytext=(xs[-2], ys[-2] / 1e4),
                arrowprops=dict(arrowstyle="->,head_length=0.35,head_width=0.2", color=BLUE, lw=0.8,
                                shrinkA=0, shrinkB=0), zorder=8)


# ---------- panels ----------
add_white(10, 27, 2224, 1231)
add_white(2229, 27, 2980, 629)
add_white(2229, 635, 2980, 1233)

for s_txt, x, y, size in [("GBPUSD, 4h", 1108, 508, 66), ("British Pound / U.S. Dollar", 1100, 593, 32),
                          ("GBPUSD, 1W", 2601, 251, 66), ("British Pound / U.S. Dollar", 2601, 333, 32),
                          ("GBPUSD, 1D", 2598, 856, 66), ("British Pound / U.S. Dollar", 2599, 942, 32)]:
    ftext(x, y, s_txt, color="#dedede", fontsize=size, ha="center", va="baseline", zorder=0.5)

# ---------- 4h chart ----------
mx = (-0.26, 358.6)
my = (1.1724, 1.25798)
vp = pane(63, 27, 2154, 1013, (0, 2091 * 1.96), my, z=1)
volume(vp, 12447, 11846, vp_m_up, vp_m_dn, 0.00052, 34, 86)
vp.plot([0, 174], [1.23186, 1.23186], color="#d5502f", lw=1.3, zorder=5)

a = pane(63, 27, 2154, 1013, mx, my, z=2)
for xs, ys in [(m_pk1_x, m_pk1_y), (m_pk2_x, m_pk2_y), (m_pk3_x, m_pk3_y)]:
    pl(a, xs, ys, PINK)
for xs, ys in [(m_pg1_x, m_pg1_y), (m_pg2_x, m_pg2_y), (m_pg3_x, m_pg3_y), (m_pg4_x, m_pg4_y)]:
    pl(a, xs, ys, PALE)
for xs, ys in [(m_red_x, m_red_y), (m_red2_x, m_red2_y), (m_red3_x, m_red3_y), (m_red4_x, m_red4_y)]:
    pl(a, xs, ys, RED_ST, 1.1)
for xs, ys in [(m_or_x, m_or_y), (m_or2_x, m_or2_y)]:
    pl(a, xs, ys, OR_ST, 1.1)
for xs, ys in [(m_gr_x, m_gr_y), (m_gr2_x, m_gr2_y), (m_gr3_x, m_gr3_y), (m_gr4_x, m_gr4_y), (m_gr5_x, m_gr5_y), (m_gr6_x, m_gr6_y)]:
    pl(a, xs, ys, GR_ST, 1.1)

# trend channels
for xs, ys in [([144.4, 287.6], [12369, 11986]), ([144.4, 287.6], [12173, 11792]),
               ([144.9, 254], [11998, 11705]), ([248.1, 258.9], [11938, 12096])]:
    pl(a, xs, ys, TREND, 1.2)

# fib and pivot levels
for lab, p, c in zip(fib_labels, fib_prices, fib_colors):
    hl(a, p, 27.9, 109.9, c, 1.5)
    a.text(26.3, p, lab, color=c, ha="right", va="center", fontsize=10, zorder=4)
for i, (lab, p, c) in enumerate(zip(gann_labels, gann_prices, gann_colors)):
    hl(a, p, 155.7, 275.7, c, 2.4 if i in (0, 4) else 1.8)
    a.text(154.2, p, lab, color=c if i != 4 else "#4caf50", ha="right", va="center", fontsize=9, zorder=4)
for lab, p in zip(piv_labels, piv_prices):
    hl(a, p, 245.7, 275.7, "#111111", 1.2)
    a.text(244.3, p, lab, color="#222222", ha="center", va="center", fontsize=7.5, zorder=5)
hl(a, 1.2218, 245.7, mx[1], "#ffb74d", 1.8)
hl(a, 1.2124, 257.9, mx[1], "#4dd599", 1.0)
hl(a, 1.1975, 257.9, mx[1], "#9ccfa0", 0.9)
hl(a, 1.1847, 245.7, mx[1], "#ffcc80", 2.2)
hl(a, 1.2522, 137.9, 257.9, "#eeaaf9", 2.2)
hl(a, 1.2497, 257.9, mx[1], "#e47df5", 1.2)
hl(a, 1.1794, 137.9, 257.9, "#e47df5", 1.2)
hl(a, 1.2063, 8.3, mx[1], "#111111", 1.3)
hl(a, 1.2050, 0.26, mx[1], RED, 2.5, z=5)
hl(a, 1.20808, mx[0], mx[1], "#0b7a0b", 1.1, ls=(0, (1, 2.2)))

candles(a, m_open, m_high, m_low, m_close, 0.86)
for x, y in [(105, 12451), (200.9, 12206), (243, 12126)]:
    dot(a, x, y, "#f8a5a5")
for x, y in [(33.9, 11799), (175.9, 11968), (223.8, 11915), (253.9, 11932)]:
    dot(a, x, y, "#9fd4a1")
arrow_path(a, blue_m_x, blue_m_y)
bolt(a, 260, 1.1735)
ftext(1586, 372, "Invalidation Level", color="#f23645", fontsize=11.5, style="italic", weight="bold", ha="center", va="center")
ftext(1626, 972, "Target  Level", color="#4caf50", fontsize=11.5, style="italic", weight="bold", ha="center", va="center")
ticks_right(a, ticks_m, "%.5f", FAINT, 7)

r = pane(63, 1013, 2154, 1126, mx, (-87, 86.4))
rsi(r, rsi_m_x, rsi_m_v, 260)
ticks_right(r, [-50, 0, 50], "%.5f", FAINT, 7)
r.set_yticklabels(["\u221250.00000", "0.00000", "50.00000"])

s = pane(63, 1126, 2154, 1204, mx, (-11, 111))
stoch(s, (sk_m_x, sk_m_v), (sd_m_x, sd_m_v), (lg_m_x, lg_m_v), (lr_m_x, lr_m_v), [79, 53, 45, 20], mx)
ticks_right(s, [0, 50, 100], "%.2f", FAINT, 7)
for v, t_lab in [(100, "100.00"), (50, "50.00"), (0, "0.00")]:
    ftext(37, 1197 - v * 0.64, t_lab, color=FAINT, fontsize=8, ha="center", va="center")

t = pane(63, 1204, 2154, 1231, mx, (0, 1))
t.set_xticks(time_m_pos)
t.set_xticklabels(time_m_lab)
t.xaxis.tick_top()
t.tick_params(axis="x", length=0, pad=-17, labelsize=8, labelcolor=FAINT)

for y in (1013, 1126, 1204):
    fline(10, 2224, y, y, "#dfe1e8", 1.2)
fline(63, 63, 27, 1231, "#787b86", 1.2)
fline(2154, 2154, 27, 1231, "#a9abb3", 1.2)
fline(10, 2224, 27, 27, "#9a9ca4", 1.2)
ftext(2170, 38, "USD", color=FAINT, fontsize=8, ha="center", va="center")

# ---------- weekly chart ----------
wx = (-0.64, 105.5)
wy = (0.9961, 1.4723)
vp = pane(2284, 27, 2916.5, 495.5, (0, 632.5 * 2.036), wy, z=1)
volume(vp, 14233, 10575, vp_w_up, vp_w_dn, 0.0032, 26, 92)
a = pane(2284, 27, 2916.5, 495.5, wx, wy)
for xs, ys in [(w_pk1_x, w_pk1_y), (w_pk2_x, w_pk2_y)]:
    pl(a, xs, ys, PINK)
for xs, ys in [(w_pg1_x, w_pg1_y), (w_pg2_x, w_pg2_y)]:
    pl(a, xs, ys, PALE)
for xs, ys in zip(w_chan_x, w_chan_y):
    pl(a, xs, ys, TREND, 1.2)
pl(a, w_red_x, w_red_y, "#f97a7a", 1.1)
pl(a, w_gr_x, w_gr_y, "#5eb562", 1.1)
pl(a, w_gr2_x, w_gr2_y, "#7cc47f", 1.1)
hl(a, 1.2057, wx[0], wx[1], RED, 2.4, z=5)
hl(a, 1.2070, wx[0], 28.6, "#111111", 1.0)
hl(a, 1.2078, wx[0], wx[1], "#111111", 1.0, ls=(0, (1, 2)))
candles(a, w_open, w_high, w_low, w_close, 0.86)
dot(a, 21, 14195, "#f8a5a5")
dot(a, 78.9, 10567, "#9fd4a1")
arrow_path(a, blue_w_x, blue_w_y)
bolt(a, 95, 1.0093)
ticks_right(a, ticks_w, "%.5f", TXT, 7, 8.5)

r = pane(2284, 495.5, 2916.5, 563, wx, (-43, 40))
rsi(r, rsi_w_x, rsi_w_v, 95)
ticks_right(r, [0], "%.5f", TXT, 7, 8.5)
s = pane(2284, 563, 2916.5, 602.5, wx, (-12, 113))
stoch(s, (sk_w_x, sk_w_v), (sd_w_x, sd_w_v), (lg_w_x, lg_w_v), (lr_w_x, lr_w_v), [78, 51, 45, 19.5], wx)
ticks_right(s, [0, 100], "%.2f", TXT, 7, 8.5)
ftext(2257, 568, "100.00", color=TXT, fontsize=8.5, ha="center", va="center")
ftext(2263, 598, "0.00", color=TXT, fontsize=8.5, ha="center", va="center")
t = pane(2284, 602.5, 2916.5, 629, wx, (0, 1))
t.set_xticks(time_w_pos)
t.set_xticklabels(time_w_lab)
t.xaxis.tick_top()
for lab, txt in zip(t.get_xticklabels(), time_w_lab):
    if txt.isdigit():
        lab.set_fontweight("bold")
t.tick_params(axis="x", length=0, pad=-17, labelsize=8.5, labelcolor=TXT)
t.text(0.7, 0.5, "May", color=TXT, fontsize=8.5, ha="center", va="center", clip_on=True)
for y in (495.5, 563, 602.5):
    fline(2229, 2980, y, y, "#363a45", 1.2)
fline(2284, 2284, 27, 629, "#4a4e5a", 1.2)
fline(2916.5, 2916.5, 27, 629, "#4a4e5a", 1.2)
fline(2229, 2980, 27, 27, "#787b86", 1.2)
ftext(2926, 41, "USD", color=TXT, fontsize=8.5, ha="left", va="center")

# ---------- daily chart ----------
dx = (-0.47, 104.7)
dy = (1.0921, 1.2617)
vp = pane(2284, 635, 2912.5, 1100, (0, 628.5 * 2.036), dy, z=1)
volume(vp, 12415, 11075, vp_d_up, vp_d_dn, 0.00115, 2, 39)
a = pane(2284, 635, 2912.5, 1100, dx, dy)
for xs, ys in [(d_pk1_x, d_pk1_y), (d_pk2_x, d_pk2_y)]:
    pl(a, xs, ys, PINK)
for xs, ys in [(d_pg1_x, d_pg1_y), (d_pg2_x, d_pg2_y)]:
    pl(a, xs, ys, PALE)
for xs, ys in zip(d_diag_x, d_diag_y):
    pl(a, xs, ys, TREND, 1.0)
pl(a, [5.7, 39.8], [12241, 12222], "#c8ccdc", 1.8)
pl(a, d_red1_x, d_red1_y, "#f97a7a", 1.1)
pl(a, d_red2_x, d_red2_y, "#f97a7a", 1.1)
pl(a, d_gr1_x, d_gr1_y, "#5eb562", 1.1)
pl(a, d_gr2_x, d_gr2_y, "#7cc47f", 1.1)
hl(a, 1.2442, -0.4, 74.1, "#388e3c", 2.2)
hl(a, 1.2070, -0.4, 74.1, "#388e3c", 2.0)
for p in (1.1822, 1.1632, 1.1498):
    hl(a, p, -0.4, 74.1, "#c9cbd1", 2.0)
hl(a, 1.0926, -0.4, 74.1, "#f23645", 3.0)
hl(a, 1.2521, 73.9, 93.9, MAG, 1.6)
hl(a, 1.1795, 73.9, 93.9, MAG, 1.6)
a.plot([93.9, 93.9], [1.0990, 1.2498], color="#e67af7", lw=1.3, zorder=4)
for p, x0, x1 in [(1.2598, 94, dx[1]), (1.2305, 94, dx[1]), (1.2305, 91.5, 96.9), (1.2109, 94, dx[1]),
                  (1.2002, 91.5, 96.9), (1.1821, 94, dx[1]), (1.1623, 94, dx[1]), (1.1639, 91.5, 96.9), (1.1335, 94, dx[1])]:
    hl(a, p, x0, x1, "#111111", 1.1)
hl(a, 1.2217, 92, dx[1], "#ffb74d", 1.1)
hl(a, 1.1849, 92.2, dx[1], "#ffcc80", 1.8)
hl(a, 1.2061, dx[0], dx[1], "#111111", 1.2)
hl(a, 1.2038, dx[0], dx[1], RED, 2.6, z=5)
hl(a, 1.2079, dx[0], dx[1], "#0b7a0b", 1.0, ls=(0, (1, 2)))
candles(a, d_open, d_high, d_low, d_close, 0.86)
for x, y in [(54.8, 12408), (77.8, 12420)]:
    dot(a, x, y, "#f8a5a5")
dot(a, 63.8, 11919, "#9fd4a1")
arrow_path(a, blue_d_x, blue_d_y)
bolt(a, 93.9, 1.0966)
for lab, x, y in [("R2", 92.4, 1.2598), ("R3", 90.3, 1.2300), ("R1", 92.4, 1.2305), ("P", 91.7, 1.2109), ("P", 89.7, 1.2006),
                  ("S1", 92.2, 1.1821), ("S3", 90.1, 1.1642), ("S2", 92.2, 1.1625), ("S3", 92.2, 1.1333)]:
    a.text(x, y, lab, color="#222222", ha="center", va="center", fontsize=7.5, zorder=9)
ticks_right(a, ticks_d, "%.5f", TXT, 7, 8.5)

r = pane(2284, 1100, 2912.5, 1168, dx, (-37, 46.5))
rsi(r, rsi_d_x, rsi_d_v, 94)
ticks_right(r, [0], "%.5f", TXT, 7, 8.5)
s = pane(2284, 1168, 2912.5, 1206, dx, (-14.3, 118.6))
stoch(s, (sk_d_x, sk_d_v), (sd_d_x, sd_d_v), (lg_d_x, lg_d_v), (lr_d_x, lr_d_v), [80, 48.6, 41.4, 20], dx)
ticks_right(s, [100], "%.2f", TXT, 7, 8.5)
ftext(2257, 1172, "100.00", color=TXT, fontsize=8.5, ha="center", va="center")
t = pane(2284, 1206, 2912.5, 1233.5, dx, (0, 1))
t.set_xticks(time_d_pos)
t.set_xticklabels(time_d_lab)
t.xaxis.tick_top()
for lab, txt in zip(t.get_xticklabels(), time_d_lab):
    if txt.isdigit():
        lab.set_fontweight("bold")
t.tick_params(axis="x", length=0, pad=-18, labelsize=8.5, labelcolor=TXT)
for y in (1100, 1168, 1206):
    fline(2229, 2980, y, y, "#363a45", 1.2)
fline(2284, 2284, 635, 1233.5, "#4a4e5a", 1.2)
fline(2912.5, 2912.5, 635, 1233.5, "#4a4e5a", 1.2)
ftext(2922, 648, "USD", color=TXT, fontsize=8.5, ha="left", va="center")

# ---------- price tags, buttons, header and footer ----------
for x0, x1, y0, y1, t1, t2 in [(2154, 2208, 595, 624.5, "1.20808", "51:19"),
                               (2916.5, 2975, 279.6, 310, "1.20807", "2d 13h"),
                               (2912.5, 2975, 774, 804.4, "1.20807", "12:51:19")]:
    fig.add_artist(Rectangle((x0 / W, 1 - y1 / H), (x1 - x0) / W, (y1 - y0) / H, transform=fig.transFigure,
                             fc="#078107", ec="none", zorder=9))
    ftext(x0 + 9, (y0 * 2 + y1) / 3 - 0.5, t1, color="white", fontsize=8.3, weight="bold", ha="left", va="center")
    ftext(x0 + 9, (y0 + y1 * 2) / 3 + 0.5, t2, color="white", fontsize=8.3, ha="left", va="center")

for x, y, ch in [(37, 1217, "Z"), (2189, 1217, "A"), (2257, 615, "Z"), (2948, 615, "A"), (2257, 1219, "Z"), (2946, 1219, "A")]:
    ftext(x, y, ch, color="#555a66", fontsize=8.5, ha="center", va="center",
          bbox=dict(boxstyle="circle,pad=0.45", fc="#f0f3fa", ec="none"))

ftext(10, 14, "Tickmill published on TradingView.com, Mar 01, 2023 04:08 UTC-5", color="#d1d4dc",
      fontsize=7.8, ha="left", va="center")
ftext(10, 1251, "17", color="#d1d4dc", fontsize=11.5, weight="bold", style="italic", ha="left", va="center")
ftext(33, 1251, "TradingView", color="#d1d4dc", fontsize=10.5, ha="left", va="center")

fig.savefig("out.png", dpi=100, facecolor=BG)
